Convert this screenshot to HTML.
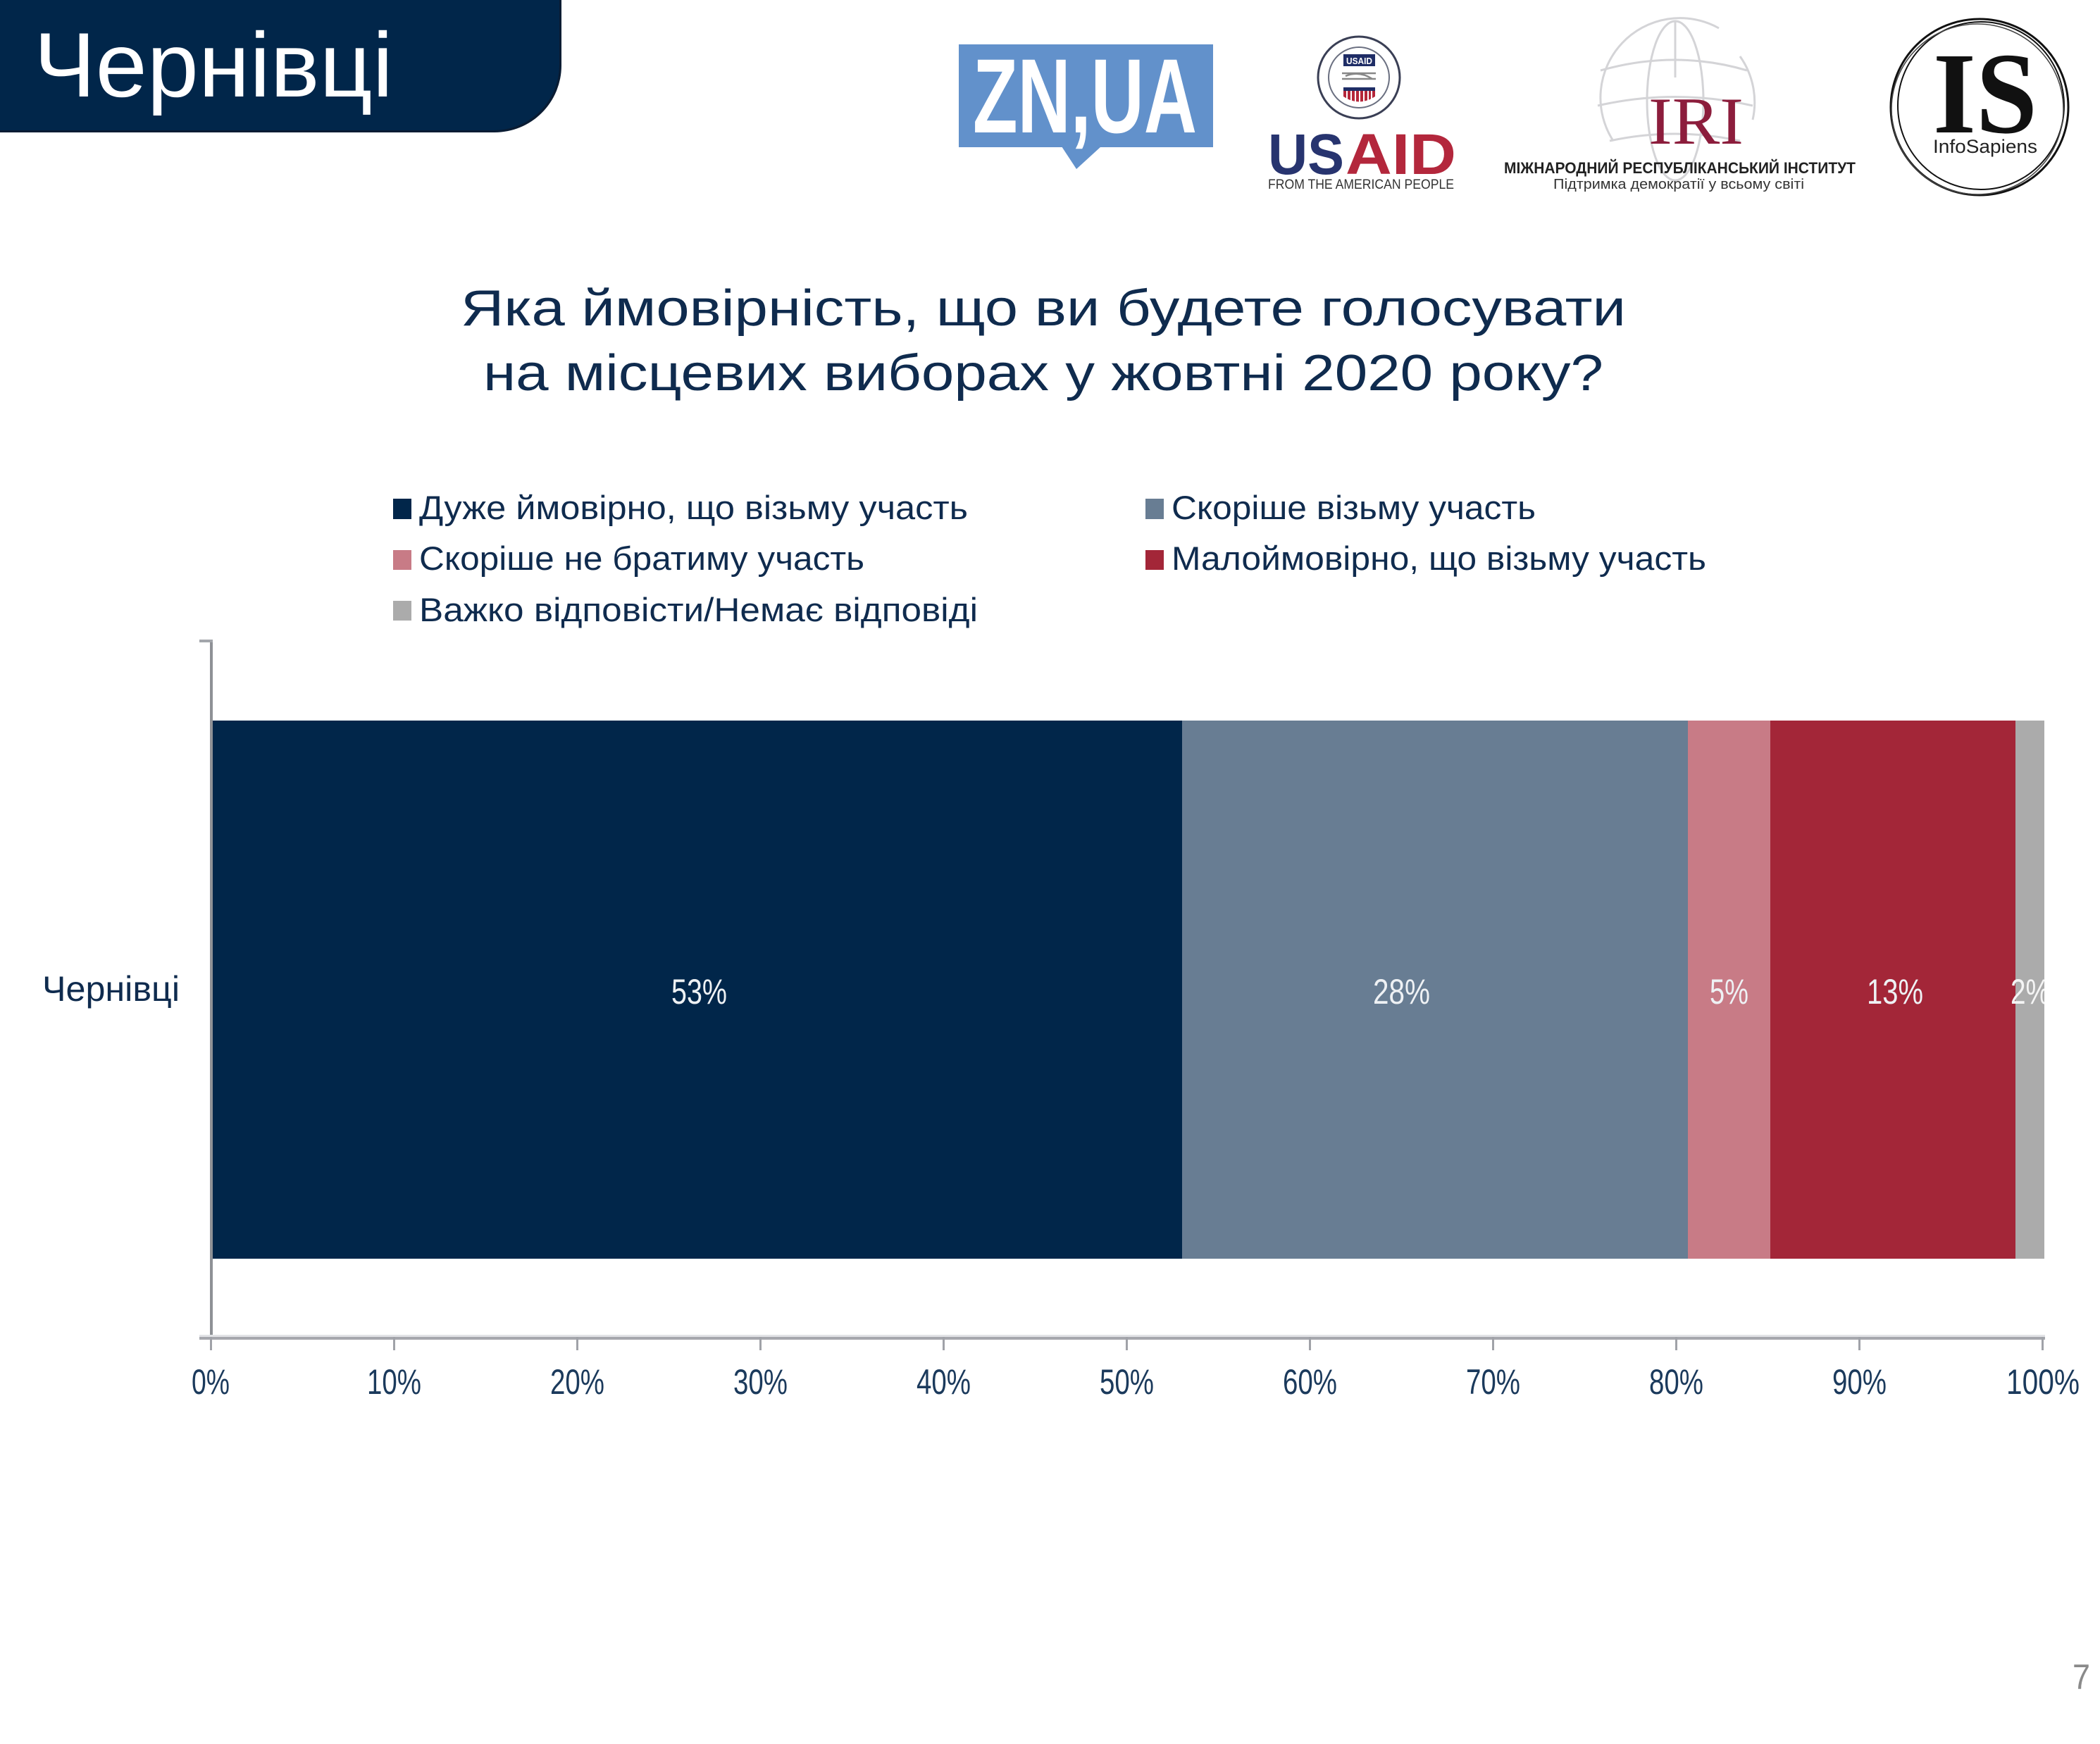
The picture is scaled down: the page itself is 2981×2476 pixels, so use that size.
<!DOCTYPE html>
<html>
<head>
<meta charset="utf-8">
<style>
html,body{margin:0;padding:0;background:#fff;}
svg{display:block;}
text{font-family:"Liberation Sans","DejaVu Sans",sans-serif;}
</style>
</head>
<body>
<svg width="2981" height="2476" viewBox="0 0 2981 2476" xmlns="http://www.w3.org/2000/svg">
<rect x="0" y="0" width="2981" height="2476" fill="#ffffff"/>

<!-- Header banner -->
<path d="M0 0 H797 V93 A95 95 0 0 1 702 188 H0 Z" fill="#0a1c33"/>
<path d="M0 0 H794 V92 A93 93 0 0 1 701 185 H0 Z" fill="#01264a"/>
<text x="48" y="137" font-size="130" fill="#ffffff" textLength="510" lengthAdjust="spacingAndGlyphs">Чернівці</text>

<!-- ZN,UA logo -->
<rect x="1361" y="63" width="361" height="146" fill="#6291cb"/>
<polygon points="1507,208 1563,208 1528,240" fill="#6291cb"/>
<text x="1381" y="188" font-size="150" font-weight="bold" fill="#ffffff" textLength="318" lengthAdjust="spacingAndGlyphs">ZN,UA</text>

<!-- USAID logo -->
<circle cx="1929" cy="110" r="58" fill="#fff" stroke="#3a3f55" stroke-width="3"/>
<circle cx="1929" cy="110" r="43" fill="#fff" stroke="#6a6f80" stroke-width="2"/>
<rect x="1907" y="77" width="45" height="17" fill="#1f2d66"/>
<text x="1911" y="91" font-size="13" font-weight="bold" fill="#fff" textLength="37" lengthAdjust="spacingAndGlyphs">USAID</text>
<path d="M1905 104 H1953 M1905 112 H1953 M1910 108 Q1929 100 1948 112" stroke="#888" stroke-width="2.5" fill="none"/>
<rect x="1907" y="124" width="45" height="5" fill="#1f2d66"/>
<path d="M1907 129 H1952 V137 Q1929 152 1907 137 Z" fill="#b5263a"/>
<path d="M1912 129 V142 M1918 129 V145 M1924 129 V147 M1930 129 V147 M1936 129 V146 M1942 129 V144 M1947 129 V141" stroke="#fff" stroke-width="2"/>
<text x="1800" y="247" font-size="82" font-weight="bold" fill="#27346f" textLength="108" lengthAdjust="spacingAndGlyphs">US</text>
<text x="1910" y="247" font-size="82" font-weight="bold" fill="#b3273c" textLength="157" lengthAdjust="spacingAndGlyphs">AID</text>
<text x="1800" y="268" font-size="19" fill="#333" textLength="264" lengthAdjust="spacingAndGlyphs">FROM THE AMERICAN PEOPLE</text>

<!-- IRI logo -->
<g fill="none" stroke="#d4d4d7" stroke-width="3">
<path d="M2290 200 A113 113 0 0 1 2440 40"/>
<path d="M2470 80 A113 113 0 0 1 2488 170"/>
<ellipse cx="2378" cy="143" rx="40" ry="113"/>
<path d="M2272 100 Q2378 70 2480 100"/>
<path d="M2268 150 Q2378 125 2488 150"/>
<path d="M2285 200 Q2378 180 2470 200"/>
<path d="M2378 30 V110"/>
</g>
<text x="2340" y="204" font-size="95" fill="#8c1d3c" style="font-family:'Liberation Serif',serif" textLength="135" lengthAdjust="spacingAndGlyphs">IRI</text>
<text x="2135" y="246" font-size="22" font-weight="bold" fill="#222" textLength="499" lengthAdjust="spacingAndGlyphs">МІЖНАРОДНИЙ РЕСПУБЛІКАНСЬКИЙ ІНСТИТУТ</text>
<text x="2205" y="268" font-size="20" fill="#333" textLength="356" lengthAdjust="spacingAndGlyphs">Підтримка демократії у всьому світі</text>

<!-- InfoSapiens logo -->
<g fill="none" stroke="#111">
<ellipse cx="2810" cy="152" rx="126" ry="125" stroke-width="3"/>
<ellipse cx="2812" cy="150" rx="118" ry="119" stroke-width="2"/>
<ellipse cx="2807" cy="155" rx="122" ry="121" stroke-width="1.5" stroke="#444"/>
</g>
<text x="2744" y="188" font-size="165" font-weight="bold" fill="#111" style="font-family:'Liberation Serif',serif" textLength="148" lengthAdjust="spacingAndGlyphs">IS</text>
<text x="2744" y="217" font-size="27" fill="#222" textLength="148" lengthAdjust="spacingAndGlyphs">InfoSapiens</text>

<!-- Title -->
<text x="654" y="462" font-size="72" fill="#0f2b4e" textLength="1654" lengthAdjust="spacingAndGlyphs">Яка ймовірність, що ви будете голосувати</text>
<text x="686" y="554" font-size="72" fill="#0f2b4e" textLength="1590" lengthAdjust="spacingAndGlyphs">на місцевих виборах у жовтні 2020 року?</text>

<!-- Legend -->
<rect x="558" y="708" width="26" height="29" fill="#01264a"/>
<text x="595" y="737" font-size="47" fill="#0f2b4e" textLength="779" lengthAdjust="spacingAndGlyphs">Дуже ймовірно, що візьму участь</text>
<rect x="1626" y="708" width="26" height="29" fill="#687d93"/>
<text x="1663" y="737" font-size="47" fill="#0f2b4e" textLength="517" lengthAdjust="spacingAndGlyphs">Скоріше візьму участь</text>

<rect x="558" y="781" width="26" height="28" fill="#c87b86"/>
<text x="595" y="809" font-size="47" fill="#0f2b4e" textLength="632" lengthAdjust="spacingAndGlyphs">Скоріше не братиму участь</text>
<rect x="1626" y="781" width="26" height="28" fill="#a32638"/>
<text x="1663" y="809" font-size="47" fill="#0f2b4e" textLength="759" lengthAdjust="spacingAndGlyphs">Малоймовірно, що візьму участь</text>

<rect x="558" y="853" width="26" height="28" fill="#ababab"/>
<text x="595" y="882" font-size="47" fill="#0f2b4e" textLength="793" lengthAdjust="spacingAndGlyphs">Важко відповісти/Немає відповіді</text>

<!-- Bars -->
<rect x="300" y="1023" width="1378" height="764" fill="#01264a"/>
<rect x="1678" y="1023" width="718" height="764" fill="#687d93"/>
<rect x="2396" y="1023" width="117" height="764" fill="#c87b86"/>
<rect x="2513" y="1023" width="348" height="764" fill="#a32638"/>
<rect x="2861" y="1023" width="41" height="764" fill="#ababab"/>

<!-- Bar labels -->
<g font-size="50" fill="#eef1f4">
<text x="953" y="1425" textLength="79" lengthAdjust="spacingAndGlyphs">53%</text>
<text x="1949" y="1425" textLength="81" lengthAdjust="spacingAndGlyphs">28%</text>
<text x="2427" y="1425" textLength="55" lengthAdjust="spacingAndGlyphs">5%</text>
<text x="2650" y="1425" textLength="80" lengthAdjust="spacingAndGlyphs">13%</text>
</g>
<clipPath id="clip2"><rect x="2800" y="1023" width="102" height="764"/></clipPath>
<text x="2854" y="1425" font-size="50" fill="#f4f4f4" clip-path="url(#clip2)" textLength="56" lengthAdjust="spacingAndGlyphs">2%</text>

<!-- Axes -->
<rect x="298" y="910" width="4" height="992" fill="#8e9196"/>
<rect x="283" y="908" width="19" height="4" fill="#a3a6ab"/>
<rect x="283" y="1898" width="2620" height="4" fill="#a6a7ad"/>
<rect x="283" y="1895" width="2620" height="3" fill="#e2e3e6"/>
<g fill="#a0a2a8">
<rect x="298" y="1898" width="3" height="19"/>
<rect x="558" y="1898" width="3" height="19"/>
<rect x="818" y="1898" width="3" height="19"/>
<rect x="1078" y="1898" width="3" height="19"/>
<rect x="1338" y="1898" width="3" height="19"/>
<rect x="1598" y="1898" width="3" height="19"/>
<rect x="1858" y="1898" width="3" height="19"/>
<rect x="2118" y="1898" width="3" height="19"/>
<rect x="2378" y="1898" width="3" height="19"/>
<rect x="2638" y="1898" width="3" height="19"/>
<rect x="2898" y="1898" width="3" height="19"/>
</g>

<!-- Tick labels -->
<g font-size="50" fill="#1b3a5c">
<text x="272" y="1979" textLength="54" lengthAdjust="spacingAndGlyphs">0%</text>
<text x="521" y="1979" textLength="77" lengthAdjust="spacingAndGlyphs">10%</text>
<text x="781" y="1979" textLength="77" lengthAdjust="spacingAndGlyphs">20%</text>
<text x="1041" y="1979" textLength="77" lengthAdjust="spacingAndGlyphs">30%</text>
<text x="1301" y="1979" textLength="77" lengthAdjust="spacingAndGlyphs">40%</text>
<text x="1561" y="1979" textLength="77" lengthAdjust="spacingAndGlyphs">50%</text>
<text x="1821" y="1979" textLength="77" lengthAdjust="spacingAndGlyphs">60%</text>
<text x="2081" y="1979" textLength="77" lengthAdjust="spacingAndGlyphs">70%</text>
<text x="2341" y="1979" textLength="77" lengthAdjust="spacingAndGlyphs">80%</text>
<text x="2601" y="1979" textLength="77" lengthAdjust="spacingAndGlyphs">90%</text>
<text x="2848" y="1979" textLength="104" lengthAdjust="spacingAndGlyphs">100%</text>
</g>

<!-- Category label -->
<text x="60" y="1421" font-size="50" fill="#0f2b4e" textLength="195" lengthAdjust="spacingAndGlyphs">Чернівці</text>

<!-- Page number -->
<text x="2942" y="2398" font-size="50" fill="#8a8a8a" textLength="25" lengthAdjust="spacingAndGlyphs">7</text>
</svg>
</body>
</html>
